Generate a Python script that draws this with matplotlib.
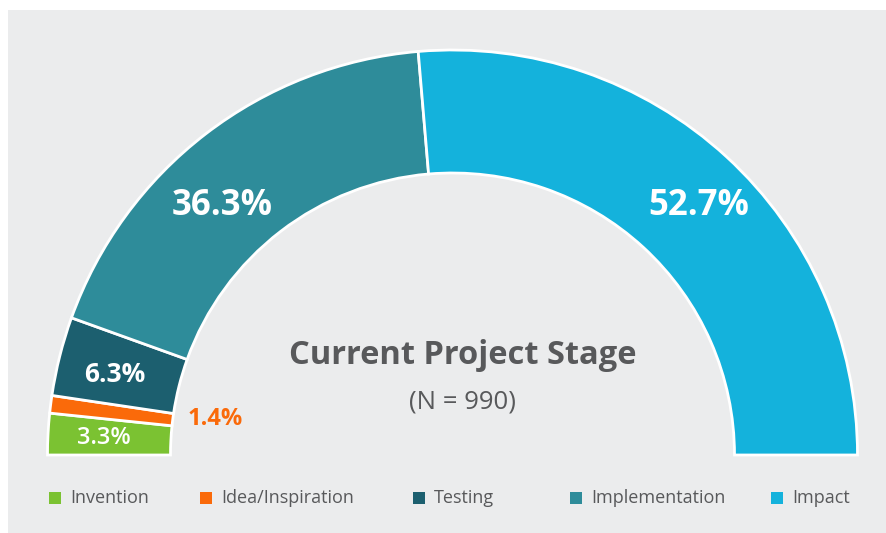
import matplotlib.pyplot as plt
from matplotlib.patches import Rectangle

# data
stages = ["Invention", "Idea/Inspiration", "Testing", "Implementation", "Impact"]
shares = [3.3, 1.4, 6.3, 36.3, 52.7]
colors = ["#7bc232", "#fa6a0a", "#1c5f6f", "#2e8c9a", "#14b2dc"]
title = "Current Project Stage"
subtitle = "(N = 990)"

plt.rcParams['font.family'] = ['Open Sans', 'DejaVu Sans']

fig = plt.figure(figsize=(8.87, 5.33), dpi=100)
ax = fig.add_axes([0, 0, 1, 1])

# light grey panel (pixel coords, y measured from bottom)
ax.add_patch(Rectangle((8, 0), 887, 523, facecolor="#ebeced", edgecolor="none", zorder=0))

# half donut: hidden lower half takes the other 180 degrees
cx, cy = 452.5, 533 - 455
r_out, r_in = 405, 282
wedges, _ = ax.pie(shares + [sum(shares)], colors=colors + ["none"],
                   startangle=180, counterclock=False,
                   center=(cx, cy), radius=r_out,
                   wedgeprops=dict(width=r_out - r_in, edgecolor="white", linewidth=2))
wedges[-1].set_visible(False)
for w in wedges:
    w.set_zorder(2)

# value labels
label_pos = [(104, 438), (215, 419), (115, 375), (222, 206), (699, 206)]
label_size = [17, 17, 19, 25, 25]
for i, (v, (x, y)) in enumerate(zip(shares, label_pos)):
    col = colors[i] if i == 1 else "white"
    ax.text(x, 533 - y, f"{v}%", ha="center", va="center", fontsize=label_size[i],
            fontweight="bold" if i != 0 else "semibold", color=col, zorder=3)

ax.text(463, 533 - 355, title, ha="center", va="center", fontsize=23.5,
        fontweight="bold", color="#58595b", zorder=3)
ax.text(463, 533 - 402, subtitle, ha="center", va="center", fontsize=18.5,
        color="#58595b", zorder=3)

# legend row
leg_x = [55, 206, 419, 576, 777]
for name, c, x in zip(stages, colors, leg_x):
    ax.add_patch(Rectangle((x - 6, 533 - 504), 12, 12, facecolor=c, edgecolor="none", zorder=3))
    ax.text(x + 15, 533 - 498, name, ha="left", va="center", fontsize=13,
            color="#58595b", zorder=3)

ax.set_xlim(0, 887)
ax.set_ylim(0, 533)
ax.set_aspect("equal")
ax.axis("off")

fig.savefig("out.png", dpi=100, facecolor="white")
